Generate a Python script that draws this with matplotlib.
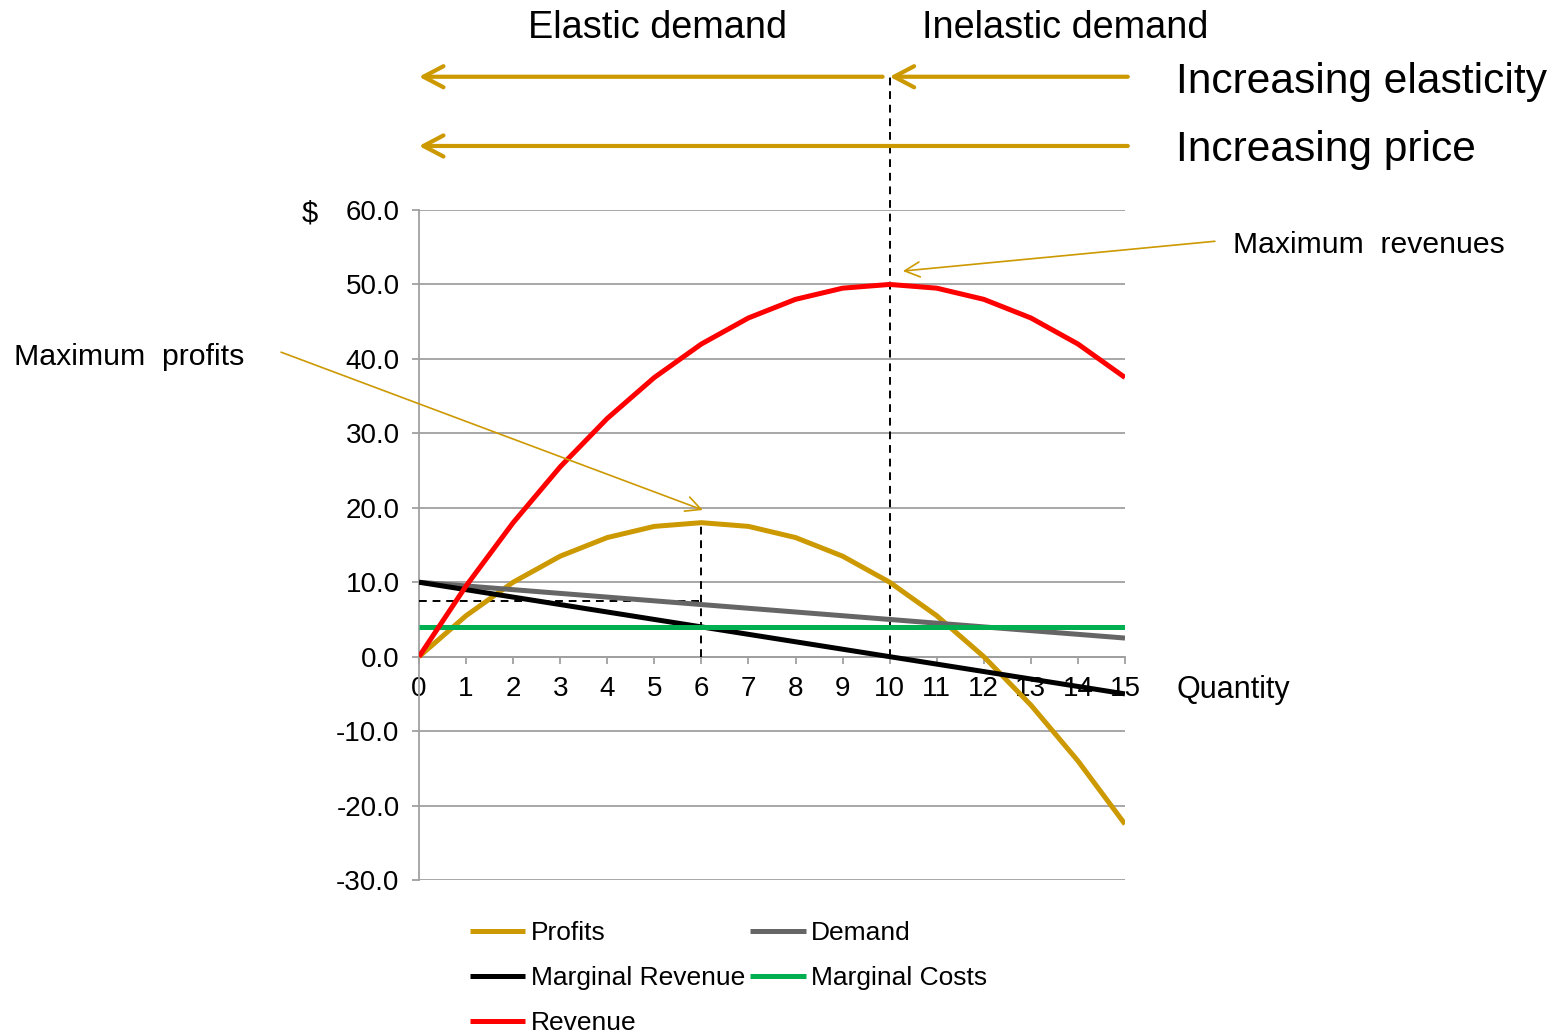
import numpy as np
import matplotlib.pyplot as plt
from matplotlib.ticker import FormatStrFormatter, MultipleLocator

plt.rcParams['font.family'] = ['Liberation Sans', 'DejaVu Sans']
plt.rcParams['axes.unicode_minus'] = False

# quantities and the five curves
quantity = [0, 1, 2, 3, 4, 5, 6, 7, 8, 9, 10, 11, 12, 13, 14, 15]
profits = [0, 5.5, 10, 13.5, 16, 17.5, 18, 17.5, 16, 13.5, 10, 5.5, 0, -6.5, -14, -22.5]
demand = [10, 9.5, 9, 8.5, 8, 7.5, 7, 6.5, 6, 5.5, 5, 4.5, 4, 3.5, 3, 2.5]
marginal_revenue = [10, 9, 8, 7, 6, 5, 4, 3, 2, 1, 0, -1, -2, -3, -4, -5]
marginal_costs = [4, 4, 4, 4, 4, 4, 4, 4, 4, 4, 4, 4, 4, 4, 4, 4]
revenue = [0, 9.5, 18, 25.5, 32, 37.5, 42, 45.5, 48, 49.5, 50, 49.5, 48, 45.5, 42, 37.5]

q_max_profit = 6
q_max_revenue = 10
price_at_max_profit = 7.5

GOLD = '#CC9900'
GRID = '#A0A0A0'

W, H = 1563, 1036


def fpos(x, y):
    # pixel position -> figure fraction
    return x / W, 1 - y / H


fig = plt.figure(figsize=(W / 100, H / 100), dpi=100)
ax = fig.add_axes([419 / W, 1 - 880 / H, (1125 - 419) / W, (880 - 210) / H])

series = [
    ('Profits', profits, GOLD),
    ('Demand', demand, '#666666'),
    ('Marginal Revenue', marginal_revenue, 'black'),
    ('Marginal Costs', marginal_costs, '#00B050'),
    ('Revenue', revenue, '#FF0000'),
]
handles = {}
for name, vals, col in series:
    h, = ax.plot(quantity, vals, color=col, lw=3.6, label=name, zorder=3,
                 solid_capstyle='butt')
    handles[name] = h

ax.set_xlim(0, 15)
ax.set_ylim(-30, 60)
ax.yaxis.set_major_locator(MultipleLocator(10))
ax.yaxis.set_major_formatter(FormatStrFormatter('%.1f'))
ax.set_xticks(quantity)
ax.grid(axis='y', color=GRID, lw=1.3)
ax.set_axisbelow(True)

for s in ['top', 'right']:
    ax.spines[s].set_visible(False)
ax.spines['left'].set_color(GRID)
ax.spines['left'].set_linewidth(1.3)
ax.spines['bottom'].set_position(('data', 0))
ax.spines['bottom'].set_color(GRID)
ax.spines['bottom'].set_linewidth(1.3)
ax.tick_params(axis='y', length=5, width=1.3, color=GRID, labelsize=20, pad=9)
ax.tick_params(axis='x', length=5, width=1.3, color=GRID, labelsize=20, pad=9)

# dashed guides
ax.plot([q_max_profit, q_max_profit], [0, profits[q_max_profit]], '--', color='black',
        lw=1.4, dashes=(4, 3), zorder=2.6)
ax.plot([0, q_max_profit], [price_at_max_profit, price_at_max_profit], '--',
        color='black', lw=1.4, dashes=(4, 3), zorder=2.6)
ax.plot([q_max_revenue, q_max_revenue], [0, 77.9], '--', color='black', lw=1.4,
        dashes=(4, 3), zorder=2.6, clip_on=False)

# elasticity / price arrows above the plot
big = dict(arrowstyle='->,head_length=0.72,head_width=0.38', color=GOLD, lw=3,
           mutation_scale=20, shrinkA=0, shrinkB=0)
ax.annotate('', xy=(q_max_revenue, 77.9), xytext=(15.06, 77.9), arrowprops=big,
            annotation_clip=False)
ax.annotate('', xy=(0, 77.9), xytext=(9.85, 77.9), arrowprops=big,
            annotation_clip=False)
ax.annotate('', xy=(0, 68.6), xytext=(15.06, 68.6), arrowprops=big,
            annotation_clip=False)

# pointers to the maxima
thin = dict(arrowstyle='->,head_length=0.9,head_width=0.45', color=GOLD, lw=1.2,
            mutation_scale=12, shrinkA=0, shrinkB=0)
ax.annotate('', xy=(6.03, 19.7), xytext=(-2.93, 40.9), arrowprops=thin,
            annotation_clip=False)
ax.annotate('', xy=(10.28, 51.8), xytext=(16.91, 55.8), arrowprops=thin,
            annotation_clip=False)

fig.text(*fpos(658, 28), 'Elastic demand', fontsize=27.3, ha='center', va='center')
fig.text(*fpos(1065, 28), 'Inelastic demand', fontsize=27.3, ha='center', va='center')
fig.text(*fpos(1176, 82), 'Increasing elasticity', fontsize=30.6, ha='left', va='center')
fig.text(*fpos(1176, 150), 'Increasing price', fontsize=30.6, ha='left', va='center')
fig.text(*fpos(1233, 245), 'Maximum  revenues', fontsize=21.7, ha='left', va='center')
fig.text(*fpos(14, 357), 'Maximum  profits', fontsize=21.8, ha='left', va='center')
fig.text(*fpos(1176, 690), 'Quantity', fontsize=22, ha='left', va='center')
fig.text(*fpos(310, 214), '$', fontsize=21, ha='center', va='center')

order = ['Profits', 'Marginal Revenue', 'Revenue', 'Demand', 'Marginal Costs']
fig.legend([handles[n] for n in order], order, ncol=2, loc='upper left',
           bbox_to_anchor=fpos(470, 921), frameon=False, fontsize=19,
           handlelength=2.1, handletextpad=0.2, columnspacing=0.2,
           labelspacing=0.8, borderaxespad=0, borderpad=0)

fig.savefig('out.png', dpi=100)
